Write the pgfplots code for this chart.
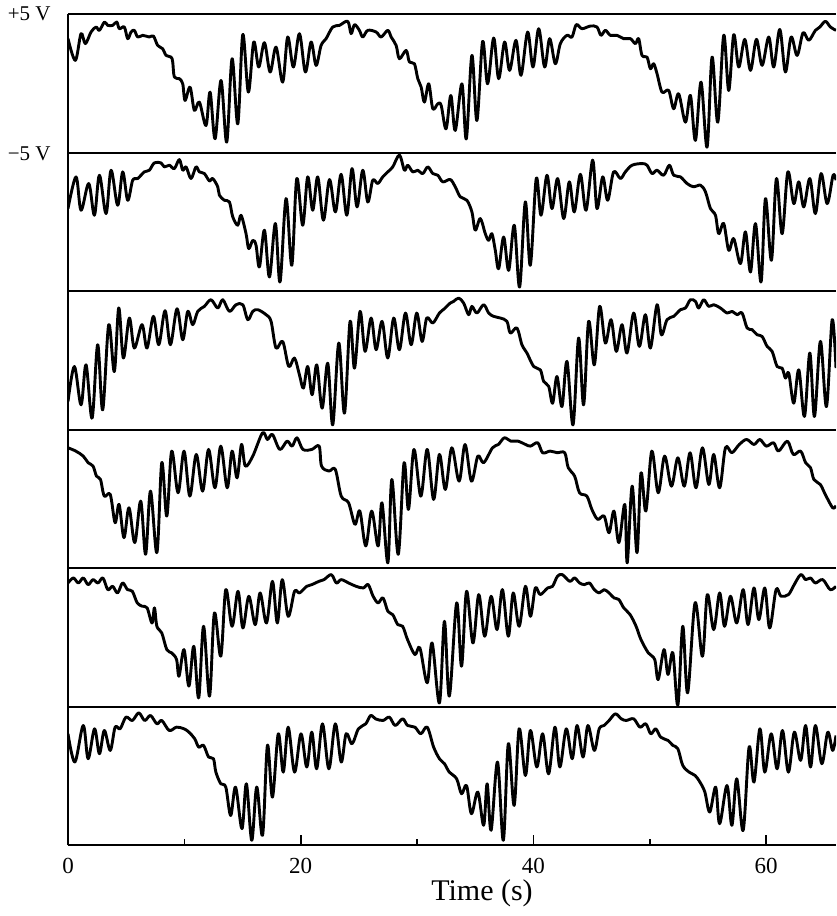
\documentclass[border=0pt]{standalone}
\usepackage{fontspec}
\setmainfont{Liberation Serif}
\usepackage{pgfplots}
\usepackage{pgfplotstable}
\pgfplotsset{compat=1.18}

% Six consecutive records of the output voltage (t in s, v in V)
\pgfplotstableread{
t v
0 3.22
0.63 1.65
1.12 3.58
1.49 2.86
1.98 3.70
2.41 4.06
2.70 3.82
3.13 4.42
3.41 4.18
3.84 4.18
4.19 4.42
4.41 3.94
4.84 4.06
5.13 3.22
5.42 3.70
5.70 3.82
5.99 3.34
6.42 3.46
6.99 3.34
7.34 3.41
7.71 2.73
8.14 2.49
8.43 2.01
8.86 1.89
9.00 1.53
9.14 0.45
9.57 0.33
9.86 -0.04
10.06 -1.24
10.49 -0.28
10.86 -1.96
11.29 -1.36
11.86 -3.05
12.21 -0.64
12.64 -4.01
13.15 0.20
13.64 -4.25
14.10 1.77
14.59 -2.93
15.02 3.51
15.50 -0.64
15.96 2.98
16.39 1.17
16.88 2.93
17.37 0.81
17.88 2.61
18.45 0.08
18.88 3.34
19.37 1.17
19.89 3.58
20.40 0.81
20.89 2.98
21.32 1.29
21.75 2.73
22.18 3.22
22.75 4.06
23.33 4.18
24.04 4.47
24.33 3.58
24.62 4.23
25.04 3.82
25.33 3.34
25.76 3.82
26.48 3.70
26.91 3.34
27.48 3.82
27.77 3.34
28.20 2.73
28.48 1.77
29.06 2.37
29.34 1.53
29.77 1.41
30.06 0.33
30.35 -0.28
30.63 -1.36
31.00 -0.04
31.35 -1.84
31.78 -1.48
32.07 -1.60
32.49 -3.29
32.90 -0.88
33.28 -3.41
33.85 -0.04
34.23 -4.01
34.71 2.01
35.14 -2.69
35.63 3.02
36.06 -0.04
36.58 3.27
37.01 0.33
37.52 2.98
37.95 0.93
38.50 3.10
38.93 0.57
39.50 3.70
39.96 1.17
40.45 3.94
40.96 1.17
41.39 3.22
41.88 1.41
42.31 2.86
42.88 3.46
43.31 3.34
43.68 4.23
44.17 3.94
44.89 4.13
45.46 4.06
45.80 3.46
46.18 3.82
46.61 3.46
47.18 3.46
47.75 3.22
48.33 3.22
48.76 2.86
49.04 3.22
49.33 2.01
49.76 1.89
50.05 1.05
50.33 1.41
50.62 0.69
51.05 -0.64
51.62 -0.52
52.05 -1.84
52.48 -0.76
53.06 -2.81
53.49 -0.88
53.92 -4.13
54.40 0.08
54.92 -4.61
55.35 1.89
55.84 -2.81
56.35 3.46
56.78 -0.52
57.21 3.51
57.64 1.17
58.16 3.17
58.65 0.93
59.16 3.17
59.65 1.29
60.22 3.34
60.65 1.17
61.17 3.89
61.65 0.81
62.14 3.34
62.66 2.01
63.17 3.65
63.66 3.10
64.23 3.82
64.61 4.06
65.09 4.47
65.52 4.06
66.00 3.82
}\traceA

\pgfplotstableread{
t v
0 0.95
0.69 3.24
1.12 0.83
1.78 2.76
2.27 0.47
2.70 3.36
3.27 0.59
3.70 3.72
4.27 1.19
4.70 3.60
5.13 1.55
5.56 3.00
5.99 3.12
6.56 3.60
6.99 3.72
7.42 4.25
7.99 4.25
8.28 3.96
8.71 4.08
9.14 3.84
9.57 4.49
9.86 3.72
10.15 3.96
10.57 3.12
11.00 3.96
11.29 3.60
11.72 3.48
12.15 2.95
12.44 3.12
12.87 2.52
13.01 1.92
13.44 1.55
13.87 1.43
14.16 0.35
14.59 -0.25
14.87 0.47
15.30 -0.86
15.53 -1.94
15.88 -1.34
16.16 -1.70
16.45 -3.27
16.88 -0.61
17.31 -3.99
17.82 -0.13
18.22 -4.35
18.74 1.67
19.23 -3.14
19.66 3.12
20.17 -0.25
20.60 3.24
21.03 0.83
21.46 3.24
21.95 0.11
22.47 3.05
22.98 0.71
23.47 3.43
23.96 0.47
24.41 3.84
24.84 1.07
25.33 3.72
25.76 1.43
26.19 3.00
26.62 2.76
27.05 3.24
27.48 3.60
27.91 3.96
28.48 4.81
28.91 3.72
29.20 4.08
29.63 3.60
30.06 3.72
30.49 3.48
30.92 3.96
31.35 3.48
31.78 3.36
32.21 2.88
32.85 3.05
33.28 2.52
33.71 1.80
34.28 1.55
34.71 0.71
35.00 -0.61
35.43 0.23
35.86 -0.86
36.15 -1.34
36.43 -0.86
36.72 -2.06
37.01 -3.39
37.44 -1.10
37.87 -3.51
38.35 -0.25
38.81 -4.71
39.30 1.43
39.73 -3.14
40.24 3.12
40.65 0.47
41.16 3.36
41.59 0.95
42.08 3.12
42.60 0.23
43.08 2.88
43.51 0.71
44.03 3.43
44.52 0.83
45.09 4.45
45.46 0.95
45.95 3.24
46.38 1.55
46.89 3.60
47.47 3.12
47.90 3.60
48.47 4.08
49.33 4.20
49.76 4.08
50.19 3.48
50.62 3.72
51.19 3.36
51.68 4.08
52.05 3.36
52.63 3.24
53.20 2.76
53.77 2.52
54.35 2.64
54.78 2.16
55.21 0.95
55.64 0.47
55.92 -0.86
56.35 -0.13
56.78 -2.06
57.21 -1.22
57.79 -3.02
58.22 -0.73
58.65 -3.63
59.08 -0.13
59.56 -4.35
59.94 1.67
60.45 -2.78
60.88 3.12
61.37 -0.86
61.86 3.60
62.37 1.31
62.80 2.88
63.23 1.07
63.75 3.12
64.23 0.59
64.72 3.48
65.24 1.31
65.75 3.36
66.00 3.00
}\traceB

\pgfplotstableread{
t v
0 -2.98
0.55 -0.45
1.12 -3.22
1.55 -0.33
2.07 -4.18
2.55 1.12
2.98 -3.58
3.50 2.57
3.98 -0.81
4.36 3.77
4.76 0.16
5.27 3.05
5.70 0.88
6.36 2.57
6.79 0.88
7.34 3.17
7.80 1.12
8.34 3.58
8.80 1.12
9.37 3.72
9.86 1.48
10.29 3.53
10.72 2.57
11.15 3.53
11.72 3.89
12.29 4.37
12.87 3.77
13.30 4.37
13.87 3.53
14.44 4.01
15.02 4.01
15.45 2.93
15.88 3.53
16.31 3.65
17.02 3.29
17.45 2.81
17.88 0.88
18.45 1.36
18.97 -0.45
19.46 0.16
19.89 -1.05
20.23 -2.01
20.60 -0.45
20.98 -2.49
21.38 -0.33
21.84 -3.46
22.32 -0.21
22.75 -4.66
23.27 1.24
23.76 -3.82
24.24 2.81
24.62 -0.57
25.10 3.53
25.53 0.64
26.05 3.05
26.48 0.76
26.99 2.81
27.48 0.16
27.99 3.05
28.48 0.76
29.00 3.41
29.49 1.12
29.97 3.41
30.43 1.36
30.83 3.05
31.35 2.69
31.92 3.41
32.35 3.72
32.85 4.13
33.14 4.25
33.57 4.49
34.00 4.13
34.43 3.29
34.71 3.89
35.14 3.41
35.72 4.01
36.15 3.41
36.58 3.17
37.15 3.05
37.72 2.81
38.01 1.96
38.58 2.33
39.01 1.12
39.44 0.52
40.02 -0.45
40.59 -0.69
40.88 -1.53
41.31 -1.89
41.65 -3.10
42.02 -1.17
42.45 -3.34
42.88 -0.08
43.40 -4.66
43.88 1.60
44.31 -3.22
44.74 2.81
45.23 -0.33
45.69 3.89
46.18 1.24
46.67 2.93
47.12 0.64
47.61 2.57
48.04 0.52
48.61 3.41
49.10 1.00
49.62 3.29
50.05 0.88
50.62 4.01
50.99 1.84
51.48 2.93
52.05 3.17
52.63 3.65
53.06 3.77
53.49 4.37
53.92 4.25
54.20 3.77
54.63 4.37
55.06 3.89
55.49 4.01
56.07 3.77
56.64 3.41
57.07 3.53
57.50 3.29
57.93 3.41
58.36 2.33
58.79 2.21
59.22 1.84
59.65 1.72
60.08 1.00
60.51 0.64
60.94 -0.45
61.37 -0.57
61.66 -1.29
61.94 -0.93
62.37 -3.10
62.80 -0.69
63.29 -4.06
63.75 0.52
64.15 -4.06
64.66 1.36
65.18 -3.34
65.67 2.93
66.00 -0.57
}\traceC

\pgfplotstableread{
t v
0 3.68
0.67 3.44
1.31 3.08
1.73 2.60
2.15 2.36
2.45 1.63
2.79 1.39
3.12 0.19
3.63 0.31
4.05 -1.73
4.39 -0.41
4.81 -2.81
5.24 -0.65
5.74 -3.17
6.25 -0.17
6.67 -4.01
7.09 0.55
7.64 -3.89
8.06 2.60
8.49 -1.25
8.91 3.44
9.46 0.43
9.97 3.44
10.47 0.19
11.02 3.20
11.57 0.55
12.08 3.56
12.63 0.79
13.13 3.80
13.68 0.79
14.10 3.44
14.53 1.51
14.91 3.92
15.24 2.36
15.88 3.08
16.72 4.76
17.14 4.28
17.57 4.64
18.20 3.56
18.83 4.16
19.26 3.80
19.68 4.40
20.19 3.56
20.95 3.56
21.58 3.80
21.79 2.36
22.42 2.00
22.97 2.12
23.48 0.19
24.11 -0.29
24.66 -1.85
25.08 -0.89
25.59 -3.41
26.10 -0.89
26.65 -3.41
26.98 -0.29
27.49 -4.62
27.83 1.39
28.38 -4.01
28.88 2.60
29.26 -0.77
29.73 3.56
30.32 0.19
30.87 3.56
31.42 -0.05
31.92 3.20
32.43 0.67
32.98 3.68
33.61 1.27
34.12 3.92
34.67 1.27
35.22 3.08
35.72 2.60
36.48 3.68
36.99 3.92
37.50 4.40
38.05 4.16
38.68 4.16
39.31 3.92
39.74 3.80
40.37 4.04
40.79 3.32
41.43 3.44
42.06 3.32
42.69 3.32
42.99 2.24
43.54 1.63
43.96 0.43
44.59 0.19
45.02 -0.77
45.52 -1.49
46.07 -1.25
46.50 -2.45
46.92 -0.89
47.34 -3.17
47.85 -0.41
48.06 -4.62
48.48 0.91
48.90 -3.89
49.24 1.87
49.66 -0.89
50.17 3.44
50.72 0.43
51.27 3.08
51.86 0.91
52.41 2.96
52.96 0.91
53.46 3.32
53.97 0.79
54.52 3.68
55.07 1.03
55.49 3.20
56.00 0.79
56.50 3.68
57.05 3.32
57.69 3.92
58.32 4.28
58.95 3.92
59.46 4.28
60.01 3.80
60.64 4.04
61.06 3.44
61.82 4.16
62.33 3.20
62.96 3.44
63.39 2.60
63.81 2.24
64.10 1.39
64.65 1.03
65.08 0.31
65.71 -0.65
66.00 -0.50
}\traceD

\pgfplotstableread{
t v
0 3.92
0.46 4.28
0.89 3.92
1.31 4.28
1.73 3.80
2.15 4.16
2.58 3.92
3.00 4.28
3.42 3.44
3.84 3.68
4.26 3.20
4.69 3.92
5.11 3.44
5.53 3.32
5.95 2.48
6.38 2.24
6.80 2.12
7.22 1.03
7.43 2.12
7.64 0.79
8.06 0.31
8.49 -0.89
8.91 -1.13
9.33 -1.61
9.54 -2.81
9.97 -0.89
10.39 -3.53
10.81 -0.65
11.23 -4.38
11.65 0.79
12.16 -4.25
12.58 1.75
13.13 -1.37
13.56 3.44
14.10 0.79
14.61 3.32
15.03 0.67
15.54 2.96
16.09 0.91
16.51 3.20
17.06 1.03
17.57 4.04
17.99 1.03
18.41 4.16
18.92 1.51
19.47 3.32
19.89 3.20
20.52 3.68
20.95 3.80
21.58 4.04
22.00 4.16
22.63 4.52
23.06 3.92
23.48 4.16
24.11 3.92
24.75 3.68
25.38 3.56
25.80 3.80
26.22 2.96
26.65 2.48
27.07 2.84
27.49 1.87
27.91 1.63
28.34 0.91
28.76 0.79
29.18 -0.17
29.81 -1.25
30.24 -0.77
30.87 -3.29
31.29 -0.41
31.92 -4.74
32.35 1.15
32.77 -4.25
33.40 2.48
33.82 -2.09
34.25 3.32
34.80 -0.41
35.30 3.08
35.81 0.07
36.36 2.96
36.87 0.55
37.33 3.44
37.84 0.07
38.26 3.20
38.77 0.79
39.31 3.68
39.74 1.51
40.16 3.56
40.58 3.08
41.22 3.56
41.64 3.68
42.06 4.40
42.48 4.52
43.12 4.04
43.54 4.28
43.96 3.92
44.38 3.80
44.81 3.92
45.23 3.44
45.65 3.20
46.07 3.44
46.50 3.20
46.92 2.84
47.34 2.72
47.76 2.12
48.31 1.63
48.82 0.79
49.24 -0.17
49.87 -1.13
50.42 -1.61
50.72 -3.05
51.22 -0.89
51.56 -2.69
51.98 -1.13
52.41 -4.90
52.83 0.79
53.25 -4.01
53.89 2.48
54.52 -1.37
54.94 3.08
55.49 0.55
56.00 3.20
56.42 0.79
56.93 2.96
57.47 1.03
58.02 3.44
58.44 0.91
58.95 3.56
59.37 1.27
59.88 3.56
60.30 0.67
60.85 3.44
61.27 2.96
61.91 3.08
62.33 3.68
62.96 4.52
63.39 4.16
63.81 4.28
64.23 3.92
64.86 4.16
65.50 3.44
66.00 3.68
}\traceE

\pgfplotstableread{
t v
0 3.03
0.59 0.99
1.31 3.63
1.73 1.23
2.28 3.39
2.70 1.59
3.12 3.27
3.63 1.83
4.05 3.51
4.48 3.39
4.98 4.23
5.53 3.99
6.08 4.54
6.59 3.99
7.09 4.35
7.64 3.75
8.06 3.99
8.70 3.27
9.33 3.51
9.97 3.39
10.39 3.15
10.89 2.67
11.23 2.07
11.65 2.19
12.08 1.35
12.50 1.23
12.71 0.26
13.13 -0.58
13.56 -0.82
13.98 -2.87
14.40 -0.82
14.95 -3.82
15.33 -0.58
15.79 -4.66
16.22 -0.82
16.72 -4.30
17.14 2.19
17.57 -1.54
18.07 3.03
18.50 0.26
18.92 3.51
19.47 0.26
20.02 3.03
20.52 0.63
20.95 3.15
21.37 0.50
21.87 3.75
22.42 0.50
22.97 3.75
23.48 0.99
23.90 3.03
24.41 2.31
24.96 3.39
25.59 3.75
26.01 4.35
26.43 4.11
27.07 3.99
27.62 4.23
28.12 3.63
28.76 4.11
29.18 3.63
29.81 3.51
30.32 3.03
30.87 3.51
31.42 2.07
31.92 1.23
32.35 0.87
32.77 0.26
33.40 -0.22
33.82 -1.30
34.25 -0.70
34.67 -2.74
35.22 -1.18
35.72 -3.58
36.02 -0.58
36.36 -3.94
36.91 0.99
37.41 -4.66
37.84 2.31
38.34 -2.14
38.77 3.39
39.31 0.02
39.74 3.27
40.29 0.63
40.79 3.03
41.30 0.14
41.85 3.51
42.27 0.63
42.82 3.39
43.33 1.23
43.75 3.63
44.26 1.35
44.68 3.63
45.23 1.83
45.65 3.39
46.07 3.63
46.50 3.99
47.04 4.47
47.55 4.11
47.97 3.99
48.61 4.11
49.15 3.51
49.66 3.75
50.08 3.03
50.51 3.39
50.93 2.79
51.56 2.55
51.98 2.19
52.41 1.95
52.83 0.75
53.38 0.26
53.89 0.02
54.31 -0.46
54.73 -1.18
55.15 -2.62
55.66 -0.82
56.00 -3.46
56.63 -0.70
57.05 -3.58
57.47 -0.22
58.02 -3.94
58.53 2.07
58.95 -0.46
59.46 3.39
59.88 0.26
60.43 3.03
60.94 0.50
61.40 3.27
61.91 0.26
62.42 3.15
62.96 1.11
63.39 3.63
63.81 0.63
64.23 3.63
64.78 0.87
65.29 3.15
65.71 1.83
66.00 2.91
}\traceF

\begin{document}
\begin{tikzpicture}[x=1pt,y=1pt]
\begin{axis}[
  at={(0pt,0pt)}, anchor=south west,
  scale only axis, width=384pt, height=415.5pt,
  xmin=0, xmax=66, ymin=0, ymax=60,
  axis x line=bottom, axis y line=left,
  axis line style={-, line width=1pt, black},
  ytick=\empty,
  xtick={0,20,40,60}, minor xtick={10,30,50},
  tick align=inside, major tick length=5pt, minor tick length=3pt,
  every tick/.style={black, line width=0.8pt},
  xticklabel style={font=\fontsize{11.5}{13}\selectfont},
  xticklabel shift=3pt,
  /pgf/number format/assume math mode=true,
  clip mode=individual,
  trace/.style={black, line width=1.45pt, smooth, tension=0.55, line join=round},
]
  % panel separators and top border
  \draw[line width=1pt] (axis cs:0,10) -- (axis cs:66,10);
  \draw[line width=1pt] (axis cs:0,20) -- (axis cs:66,20);
  \draw[line width=1pt] (axis cs:0,30) -- (axis cs:66,30);
  \draw[line width=1pt] (axis cs:0,40) -- (axis cs:66,40);
  \draw[line width=1pt] (axis cs:0,50) -- (axis cs:66,50);
  \draw[line width=1pt] (axis cs:0,60) -- (axis cs:66,60);
  % each record is offset to the centre of its own +-5 V strip
  \addplot[trace] table[x=t, y expr=\thisrow{v}+55] {\traceA};
  \addplot[trace] table[x=t, y expr=\thisrow{v}+45] {\traceB};
  \addplot[trace] table[x=t, y expr=\thisrow{v}+35] {\traceC};
  \addplot[trace] table[x=t, y expr=\thisrow{v}+25] {\traceD};
  \addplot[trace] table[x=t, y expr=\thisrow{v}+15] {\traceE};
  \addplot[trace] table[x=t, y expr=\thisrow{v}+5]  {\traceF};
\end{axis}
\node[anchor=base east, inner sep=0pt, font=\fontsize{10.5}{12}\selectfont] at (-8.5pt,412pt) {+5 V};
\node[anchor=base east, inner sep=0pt, font=\fontsize{10.5}{12}\selectfont] at (-8.5pt,342pt) {−5 V};
\node[anchor=base, inner sep=0pt, font=\fontsize{15}{18}\selectfont] at (207pt,-27.5pt) {Time (s)};
\pgfresetboundingbox
\useasboundingbox (-34pt,-35.5pt) rectangle (384pt,422.5pt);
\end{tikzpicture}
\end{document}
